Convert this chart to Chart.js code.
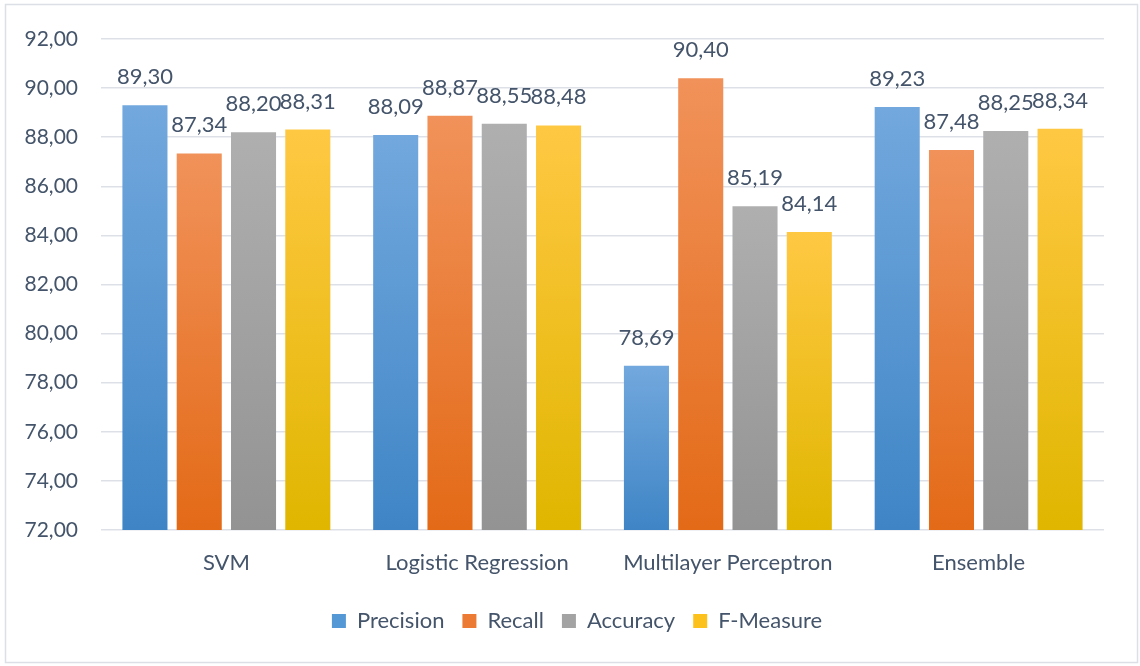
<!DOCTYPE html>
<html>
<head>
<meta charset="utf-8">
<script src="https://cdn.jsdelivr.net/npm/chart.js@4"></script>
<style>
  html, body { margin: 0; padding: 0; background: #fff; }
  #wrap { width: 1140px; height: 666px; }
</style>
</head>
<body>
<div id="wrap"><canvas id="scores"></canvas></div>
<script>
const models = ['SVM', 'Logistic Regression', 'Multilayer Perceptron', 'Ensemble']
const precision = [89.30, 88.09, 78.69, 89.23]
const recall = [87.34, 88.87, 90.40, 87.48]
const accuracy = [88.20, 88.55, 85.19, 88.25]
const fMeasure = [88.31, 88.48, 84.14, 88.34]
const yMin = 72
const yMax = 92
const yStep = 2

const textColor = '#44546a'
const fontFamily = 'Lato, "Open Sans", sans-serif'

function fmt(v) {
    return v.toFixed(2).replace('.', ',')
}

// each bar gets its own top-to-bottom gradient
function barFill(top, bottom) {
    return function(c) {
        const chart = c.chart
        if (!chart.chartArea || c.type !== 'data') return bottom
        const y = chart.scales.y
        const y1 = y.getPixelForValue(c.parsed.y)
        const y2 = y.getPixelForValue(y.min)
        const g = chart.ctx.createLinearGradient(0, y1, 0, y2)
        g.addColorStop(0, top)
        g.addColorStop(1, bottom)
        return g
    }
}

const series = [
    { label: 'Precision', data: precision, top: '#72a8dd', bottom: '#3f85c6', flat: '#5598d6' },
    { label: 'Recall', data: recall, top: '#f1925a', bottom: '#e36a17', flat: '#ec7a33' },
    { label: 'Accuracy', data: accuracy, top: '#afafaf', bottom: '#939393', flat: '#a3a3a3' },
    { label: 'F-Measure', data: fMeasure, top: '#ffc843', bottom: '#e0b600', flat: '#fdc11c' }
]

const frame = {
    id: 'frame',
    beforeDraw(chart) {
        const ctx = chart.ctx
        ctx.save()
        ctx.fillStyle = '#fff'
        ctx.fillRect(0, 0, chart.width, chart.height)
        ctx.strokeStyle = '#dce0e6'
        ctx.lineWidth = 1.5
        ctx.strokeRect(5.5, 4.5, 1132, 658)
        ctx.restore()
        // centre the legend row under the whole frame, not only the plot
        if (chart.legend) chart.legend.left = 50
    }
}

const valueLabels = {
    id: 'valueLabels',
    afterDatasetsDraw(chart) {
        const ctx = chart.ctx
        ctx.save()
        ctx.font = '22px ' + fontFamily
        ctx.fillStyle = textColor
        ctx.textAlign = 'center'
        ctx.textBaseline = 'alphabetic'
        chart.data.datasets.forEach((ds, i) => {
            chart.getDatasetMeta(i).data.forEach((bar, j) => {
                ctx.fillText(fmt(ds.data[j]), bar.x, bar.y - 21)
            })
        })
        ctx.restore()
    }
}

new Chart(document.getElementById('scores'), {
    type: 'bar',
    data: {
        labels: models,
        datasets: series.map(s => ({
            label: s.label,
            data: s.data,
            backgroundColor: barFill(s.top, s.bottom),
            flatColor: s.flat,
            borderWidth: 0,
            barPercentage: 0.83,
            categoryPercentage: 0.866
        }))
    },
    options: {
        responsive: true,
        maintainAspectRatio: false,
        animation: false,
        layout: { padding: { top: 39, right: 36, left: 0, bottom: 24 } },
        plugins: {
            tooltip: { enabled: false },
            legend: {
                position: 'bottom',
                labels: {
                    color: textColor,
                    font: { family: fontFamily, size: 22 },
                    boxWidth: 14,
                    boxHeight: 14,
                    padding: 18,
                    generateLabels(chart) {
                        return chart.data.datasets.map((ds, i) => ({
                            text: ds.label,
                            fillStyle: ds.flatColor,
                            strokeStyle: ds.flatColor,
                            lineWidth: 0,
                            fontColor: textColor,
                            hidden: false,
                            datasetIndex: i
                        }))
                    }
                }
            }
        },
        scales: {
            x: {
                grid: { display: false },
                border: { display: false },
                ticks: {
                    color: textColor,
                    font: { family: fontFamily, size: 22 },
                    padding: 12,
                    maxRotation: 0
                },
                afterFit(scale) { scale.height = 62 }
            },
            y: {
                min: yMin,
                max: yMax,
                grid: { color: '#dde1e7', lineWidth: 1.5, drawTicks: false },
                border: { display: false },
                ticks: {
                    stepSize: yStep,
                    color: textColor,
                    font: { family: fontFamily, size: 21 },
                    padding: 23,
                    callback: v => fmt(v)
                },
                afterFit(scale) { scale.width = 101 }
            }
        }
    },
    plugins: [frame, valueLabels]
})
</script>
</body>
</html>
